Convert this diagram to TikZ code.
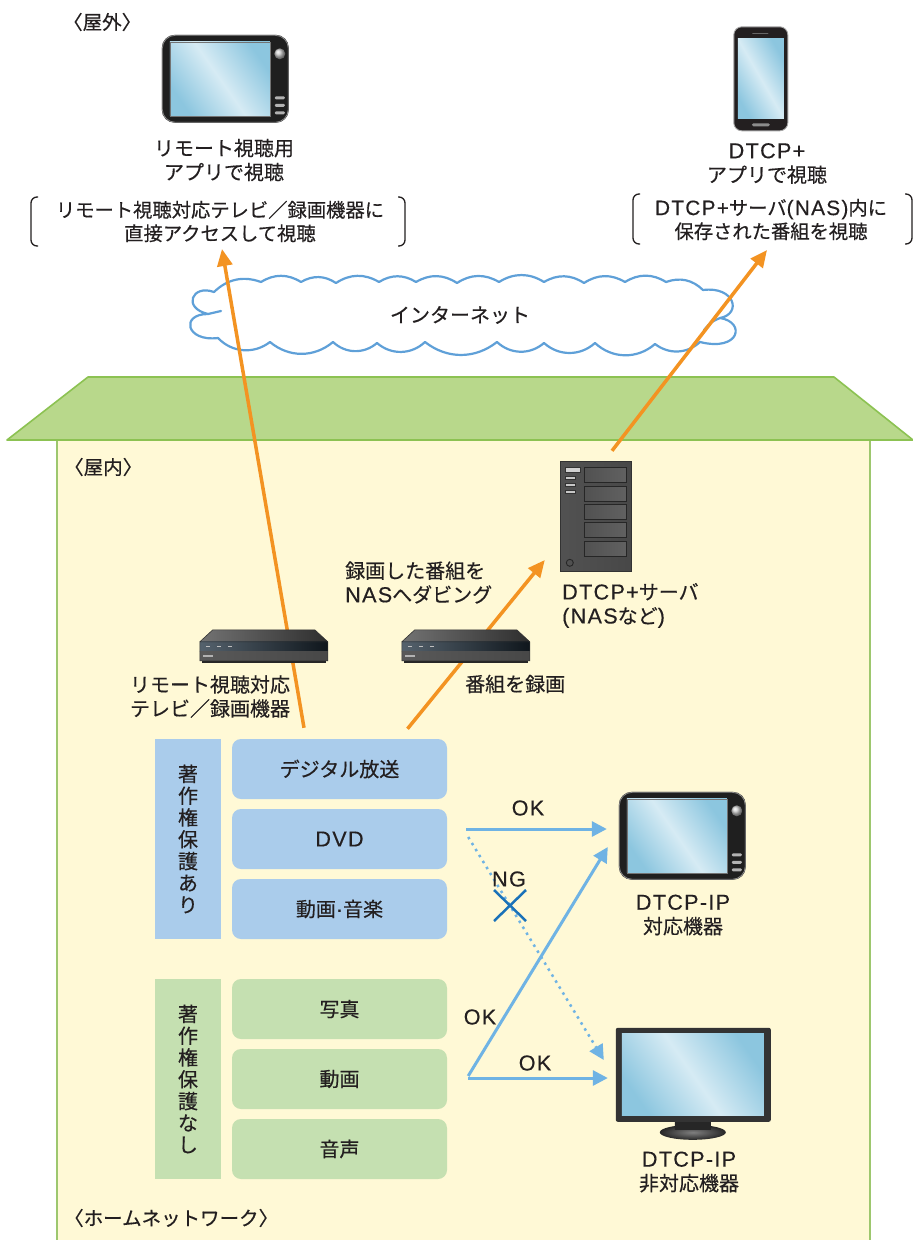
\documentclass[tikz,border=0pt]{standalone}
\usepackage{fontspec}
\setmainfont[FakeBold=0.4]{Noto Sans CJK JP}
\newfontfamily\latinfont[Scale=1.08,LetterSpace=6,FakeBold=0.3]{Liberation Sans}
\newcommand{\lat}[1]{{\latinfont #1}}
\usetikzlibrary{arrows.meta,calc}

\definecolor{ink}{HTML}{231F20}
\definecolor{roofFill}{HTML}{B8D88B}
\definecolor{roofLine}{HTML}{8CC252}
\definecolor{wallFill}{HTML}{FFF9D6}
\definecolor{wallLine}{HTML}{9DC76E}
\definecolor{protFill}{HTML}{AACCEB}
\definecolor{freeFill}{HTML}{C5E0B1}
\definecolor{flowBlue}{HTML}{6FB3E4}
\definecolor{crossBlue}{HTML}{1A72B9}
\definecolor{flowOrange}{HTML}{F39322}
\definecolor{cloudLine}{HTML}{5FA0D8}
\definecolor{screenA}{HTML}{8CC6DF}
\definecolor{screenB}{HTML}{D6EBF4}
\definecolor{slateA}{HTML}{55626D}
\definecolor{slateB}{HTML}{0F161C}

\tikzset{
  txt/.style={inner sep=0pt, text=ink, align=center, font=\fontsize{20}{24}\selectfont},
  note/.style={txt, font=\fontsize{19.3}{23.5}\selectfont},
  tag/.style={inner sep=0pt, text=ink, anchor=west, font=\fontsize{19.5}{22}\selectfont},
  srcbox/.style={rounded corners=9pt, minimum width=215pt, minimum height=60pt,
    inner sep=0pt, text=ink, font=\fontsize{20}{24}\selectfont},
  protbox/.style={srcbox, fill=protFill},
  freebox/.style={srcbox, fill=freeFill},
  sidelabel/.style={minimum width=66pt, minimum height=200pt, inner sep=0pt,
    align=center, text=ink, font=\fontsize{20}{21.8}\selectfont},
  devbox/.style={inner sep=0pt, draw=none},
  cloudstroke/.style={draw=cloudLine, line width=2.2pt, line join=round, line cap=round},
  orangeflow/.style={draw=flowOrange, line width=3.5pt,
    -{Triangle[length=17pt,width=15pt]}},
  blueflow/.style={draw=flowBlue, line width=3pt,
    -{Triangle[length=15pt,width=15pt]}},
  bluedotted/.style={draw=flowBlue, line width=2.5pt, dash pattern=on 2.5pt off 4.5pt,
    -{Triangle[length=15pt,width=15pt]}},
  bracketline/.style={draw=ink, line width=1.3pt, rounded corners=6pt},
  % portable player: 127 x 88, origin at the top left corner
  tabletpic/.pic={
    \fill[black!88, rounded corners=13pt] (0,0) rectangle (127,88);
    \draw[black!45, line width=0.8pt, rounded corners=13pt] (0.5,0.5) rectangle (126.5,87.5);
    \shade[top color=screenA, bottom color=screenA, middle color=screenB, shading angle=-55]
      (8,7) rectangle (108,81);
    \draw[black!55, line width=0.6pt] (8,7) rectangle (108,81);
    \shade[ball color=black!20] (118,19) circle [radius=5.5pt];
    \foreach \yy in {63,70.5,78}{
      \fill[black!30, rounded corners=1.2pt] (113,\yy-1.5) rectangle (123,\yy+1.5);}
  },
  % smartphone: 54 x 104
  phonepic/.pic={
    \fill[ink, rounded corners=8pt] (0,0) rectangle (54,104);
    \draw[black!35, line width=0.9pt, rounded corners=8pt] (0,0) rectangle (54,104);
    \shade[top color=screenA, bottom color=screenA, middle color=screenB, shading angle=-60]
      (4,12) rectangle (50,92);
    \draw[black!60, line width=1.2pt, line cap=round] (19,6.5) -- (34,6.5);
    \fill[black!45, rounded corners=1.5pt] (18,96.5) rectangle (36,99.5);
  },
  % set-top recorder: 128 x 33
  recorderpic/.pic={
    \shade[left color=black!55, right color=black!82] (13,0) -- (115,0) -- (128,12) -- (0,12) -- cycle;
    \shade[left color=slateA, right color=slateB] (0,12) rectangle (128,22);
    \shade[left color=black!65, middle color=black!40, right color=black!72] (0,22) rectangle (128,31);
    \fill[black!85] (2,31) rectangle (126,33.5);
    \draw[black!80, line width=0.6pt] (13,0) -- (115,0) -- (128,12) -- (128,31) -- (0,31) -- (0,12) -- cycle
      (0,12) -- (128,12);
    \foreach \xx in {6,17,28}{\draw[black!25, line width=0.9pt] (\xx,17) -- (\xx+4,17);}
    \fill[black!30] (3,25.5) rectangle (13,27.5);
  },
  % tower server: 71 x 110
  serverpic/.pic={
    \shade[left color=black!68, middle color=black!45, right color=black!72] (0,0) rectangle (71,110);
    \draw[black!80, line width=0.9pt] (0,0) rectangle (71,110);
    \foreach \k in {0,...,4}{
      \shade[left color=black!68, middle color=black!42, right color=black!62]
        (24,6+18.3*\k) rectangle (66,21+18.3*\k);
      \draw[black!85, line width=0.8pt] (24,6+18.3*\k) rectangle (66,21+18.3*\k);
    }
    \fill[black!18] (4,5) rectangle (19,10);
    \draw[black!80, line width=0.5pt] (4,5) rectangle (19,10);
    \foreach \yy in {14,21,28}{
      \fill[black!22] (4,\yy) rectangle (14,\yy+3);
      \draw[black!80, line width=0.5pt] (4,\yy) rectangle (14,\yy+3);}
    \draw[black!85, line width=0.9pt] (9,101) circle [radius=3.5pt];
  },
  % desktop monitor: 155 x 112
  monitorpic/.pic={
    \shade[inner color=black!50, outer color=black!85] (77,104.5) ellipse [x radius=33pt, y radius=7.5pt];
    \shade[left color=black!85, middle color=black!55, right color=black!85] (59,92) rectangle (95,102);
    \fill[black!80, rounded corners=2pt] (0,0) rectangle (155,94);
    \shade[top color=screenA, bottom color=screenA, middle color=screenB, shading angle=-55]
      (6,6) rectangle (148,88);
  },
}

\begin{document}
\begin{tikzpicture}[x=1pt,y=-1pt]
\useasboundingbox (0,0) rectangle (913,1240);
\fill[white] (0,0) rectangle (913,1240);

% house: walls and roof
\filldraw[fill=wallFill, draw=wallLine, line width=2pt] (57,440) rectangle (870,1250);
\filldraw[fill=roofFill, draw=roofLine, line width=1.6pt, line join=round]
  (88,377) -- (834,377) -- (913,440) -- (7,440) -- cycle;

% area tags
\node[tag] (outside) at (63,22) {〈屋外〉};
\node[tag] (inside) at (64,467) {〈屋内〉};
\node[tag] (homenet) at (64,1218) {〈ホームネットワーク〉};

% internet cloud: small puffs along the top, wider ones underneath
\path[cloudstroke, fill=white]
  (214,292) to[bend left=32] (261,282) to[bend left=32] (301,282) to[bend left=32] (336,283)
  to[bend left=32] (379,282) to[bend left=32] (416,282) to[bend left=32] (457,283)
  to[bend left=32] (499,282) to[bend left=32] (544,282) to[bend left=32] (584,283)
  to[bend left=32] (625,282) to[bend left=32] (666,282) to[bend left=32] (703,290)
  .. controls (735,286) and (742,314) .. (720,318)
  .. controls (746,322) and (740,352) .. (700,342)
  to[bend left=40] (655,344) to[bend left=42] (595,343) to[bend left=42] (544,343)
  to[bend left=42] (497,342) to[bend left=38] (425,342) to[bend left=42] (377,343)
  to[bend left=42] (333,342) to[bend left=40] (270,342) to[bend left=42] (218,338)
  .. controls (186,342) and (180,314) .. (208,314)
  .. controls (182,308) and (192,284) .. (214,292) -- cycle;
\path[cloudstroke] (208,314) .. controls (214,313) .. (221,311);
\path[cloudstroke] (720,318) .. controls (711,322) .. (704,330);
\node[txt] (net) at (460,315) {インターネット};

% outdoor viewers
\node[devbox, minimum width=127pt, minimum height=88pt] (remotetab) at (225.5,79) {};
\node[devbox, minimum width=54pt, minimum height=104pt] (phone) at (761,79) {};
\node[txt] (remoteapp) at (224,160) {リモート視聴用\\アプリで視聴};
\node[note] (remotenote) at (220,221.5) {リモート視聴対応テレビ／録画機器に\\直接アクセスして視聴};
\node[txt] (dtcpapp) at (767,163.5) {\lat{DTCP+}\\アプリで視聴};
\node[note] (dtcpnote) at (771,219.5) {\lat{DTCP+}サーバ\lat{(NAS)}内に\\保存された番組を視聴};
\path[bracketline] (38,197) -- (31,197) -- (31,246) -- (38,246);
\path[bracketline] (398,197) -- (405,197) -- (405,246) -- (398,246);
\path[bracketline] (640,194) -- (633,194) -- (633,244) -- (640,244);
\path[bracketline] (905,194) -- (912,194) -- (912,244) -- (905,244);

% indoor equipment
\node[devbox, minimum width=128pt, minimum height=33pt] (rec1) at (264,646.5) {};
\node[devbox, minimum width=128pt, minimum height=33pt] (rec2) at (466,646.5) {};
\node[devbox, minimum width=71pt, minimum height=110pt] (server) at (596.5,517) {};
\node[txt, anchor=west, align=left] (servername) at (562,605.5) {\lat{DTCP+}サーバ\\\lat{(NAS}など\lat{)}};
\node[txt, anchor=west, align=left] (dubnote) at (345,582.5) {録画した番組を\\\lat{NAS}へダビング};
\node[txt] (remotedev) at (210,696.5) {リモート視聴対応\\テレビ／録画機器};
\node[txt, anchor=west] (recnote) at (465,684) {番組を録画};

% protected content
\node[sidelabel, fill=protFill] (prot) at (188,839) {著\\作\\権\\保\\護\\あ\\り};
\node[protbox] (bcast) at (339.5,769) {デジタル放送};
\node[protbox] (dvd) at (339.5,839) {\lat{DVD}};
\node[protbox] (media) at (339.5,909) {動画\lat{·}音楽};

% unprotected content
\node[sidelabel, fill=freeFill] (free) at (188,1079) {著\\作\\権\\保\\護\\な\\し};
\node[freebox] (photo) at (339.5,1009) {写真};
\node[freebox] (movie) at (339.5,1079) {動画};
\node[freebox] (audio) at (339.5,1149) {音声};

% home network players
\node[devbox, minimum width=127pt, minimum height=88pt] (iptab) at (682.5,836) {};
\node[devbox, minimum width=155pt, minimum height=94pt] (monitor) at (693.5,1075) {};
\node[txt] (ipok) at (683,915) {\lat{DTCP-IP}\\対応機器};
\node[txt] (ipng) at (689,1172) {\lat{DTCP-IP}\\非対応機器};

% orange flows
\coordinate (remotetip) at (222,249);
\coordinate (dtcptip) at (767,250);
\draw[orangeflow] ($(bcast.north)+(-35.5,-11)$) -- (remotetip);
\draw[orangeflow] ($(server.north)+(15.5,-11)$) -- (dtcptip);
\draw[orangeflow] ($(bcast.north)+(68,-10)$) -- ($(server.west)+(-16,43)$);

% device pictures
\pic at (remotetab.north west) {tabletpic};
\pic at (phone.north west) {phonepic};
\pic at (rec1.north west) {recorderpic};
\pic at (rec2.north west) {recorderpic};
\pic at (server.north west) {serverpic};
\pic at (iptab.north west) {tabletpic};
\pic at (monitor.north west) {monitorpic};

% blue flows
\draw[blueflow] ($(dvd.east)+(19,-10)$) -- ($(iptab.west)+(-12,-7)$);
\draw[bluedotted] ($(dvd.east)+(21,-2)$) -- ($(monitor.west)+(-12,-15)$);
\draw[blueflow] ($(movie.east)+(21,-3)$) -- ($(iptab.west)+(-11,11)$);
\draw[blueflow] ($(movie.east)+(21,-1)$) -- ($(monitor.west)+(-8,3)$);

% flow labels
\node[txt] (ok1) at (528,808) {\lat{OK}};
\node[txt] (ng) at (509,879) {\lat{NG}};
\node[txt] (ok2) at (480,1017) {\lat{OK}};
\node[txt] (ok3) at (535,1063) {\lat{OK}};
\coordinate (ngmark) at (510,905.5);
\draw[crossBlue, line width=2.5pt] ($(ngmark)+(-16,-15.5)$) -- ($(ngmark)+(16,15.5)$)
  ($(ngmark)+(16,-15.5)$) -- ($(ngmark)+(-16,15.5)$);
\end{tikzpicture}
\end{document}
